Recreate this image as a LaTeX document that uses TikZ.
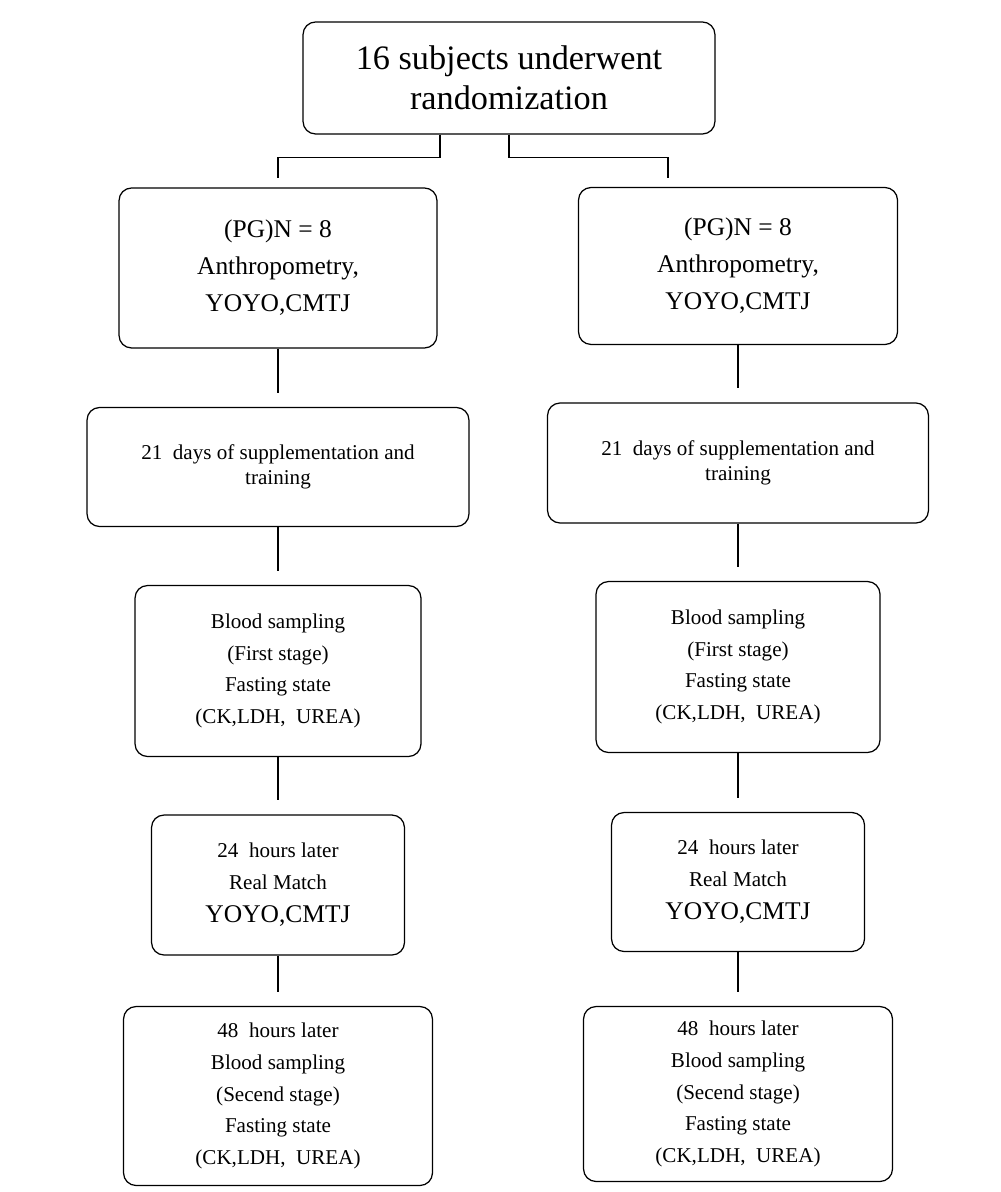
\documentclass[tikz,border=0pt]{standalone}
\usepackage{fontspec}
\setmainfont{Liberation Serif}

\begin{document}
\begin{tikzpicture}[x=0.02cm, y=-0.02cm, line width=0.7pt,
		box/.style={draw, rounded corners=0.25cm, align=center, inner sep=0pt},
		link/.style={shorten >=0.28cm},
		small/.style={font=\fontsize{12}{18}\selectfont},
		mid/.style={font=\fontsize{14.5}{21}\selectfont}]
			\useasboundingbox (0,0) rectangle (1000,1192);
			\node [box, minimum width=8.24cm, minimum height=2.24cm, font=\fontsize{19.5}{22.5}\selectfont] (top) at (509,78) {16 subjects underwent\\randomization};
			% left group
			\node [box, mid, minimum width=6.36cm, minimum height=3.2cm] (L1) at (278,268) {(PG)N = 8\\Anthropometry,\\YOYO,CMTJ};
			\node [box, font=\fontsize{12}{14.5}\selectfont, minimum width=7.64cm, minimum height=2.38cm] (L2) at (278,467) {21~ days of supplementation and\\training};
			\node [box, small, minimum width=5.72cm, minimum height=3.42cm] (L3) at (278,671) {Blood sampling\\(First stage)\\Fasting state\\(CK,LDH,~ UREA)};
			\node [box, small, minimum width=5.06cm, minimum height=2.8cm] (L4) at (278,885) {24~ hours later\\Real Match\\[1pt]{\fontsize{14.5}{20}\selectfont YOYO,CMTJ}};
			\node [box, small, minimum width=6.18cm, minimum height=3.58cm] (L5) at (278,1096) {48~ hours later\\Blood sampling\\(Secend stage)\\Fasting state\\(CK,LDH,~ UREA)};
			% right group
			\node [box, mid, minimum width=6.38cm, minimum height=3.14cm] (R1) at (738,266) {(PG)N = 8\\Anthropometry,\\YOYO,CMTJ};
			\node [box, font=\fontsize{12}{14.5}\selectfont, minimum width=7.62cm, minimum height=2.4cm] (R2) at (738,463) {21~ days of supplementation and\\training};
			\node [box, small, minimum width=5.68cm, minimum height=3.42cm] (R3) at (738,667) {Blood sampling\\(First stage)\\Fasting state\\(CK,LDH,~ UREA)};
			\node [box, small, minimum width=5.06cm, minimum height=2.78cm] (R4) at (738,882) {24~ hours later\\Real Match\\[1pt]{\fontsize{14.5}{20}\selectfont YOYO,CMTJ}};
			\node [box, small, minimum width=6.18cm, minimum height=3.5cm] (R5) at (738,1094) {48~ hours later\\Blood sampling\\(Secend stage)\\Fasting state\\(CK,LDH,~ UREA)};
			% split
			\draw (top.south) ++(-69,0) -- ++(0,23) -| ([yshift=0.18cm]L1.north);
			\draw (top.south) -- ++(0,23) -| ([xshift=-1.4cm, yshift=0.18cm]R1.north);
			% links
			\draw [link] (L1.south) -- (L2.north);
			\draw [link] (L2.south) -- (L3.north);
			\draw [link] (L3.south) -- (L4.north);
			\draw [link] (L4.south) -- (L5.north);
			\draw [link] (R1.south) -- (R2.north);
			\draw [link] (R2.south) -- (R3.north);
			\draw [link] (R3.south) -- (R4.north);
			\draw [link] (R4.south) -- (R5.north);
		\end{tikzpicture}
\end{document}
